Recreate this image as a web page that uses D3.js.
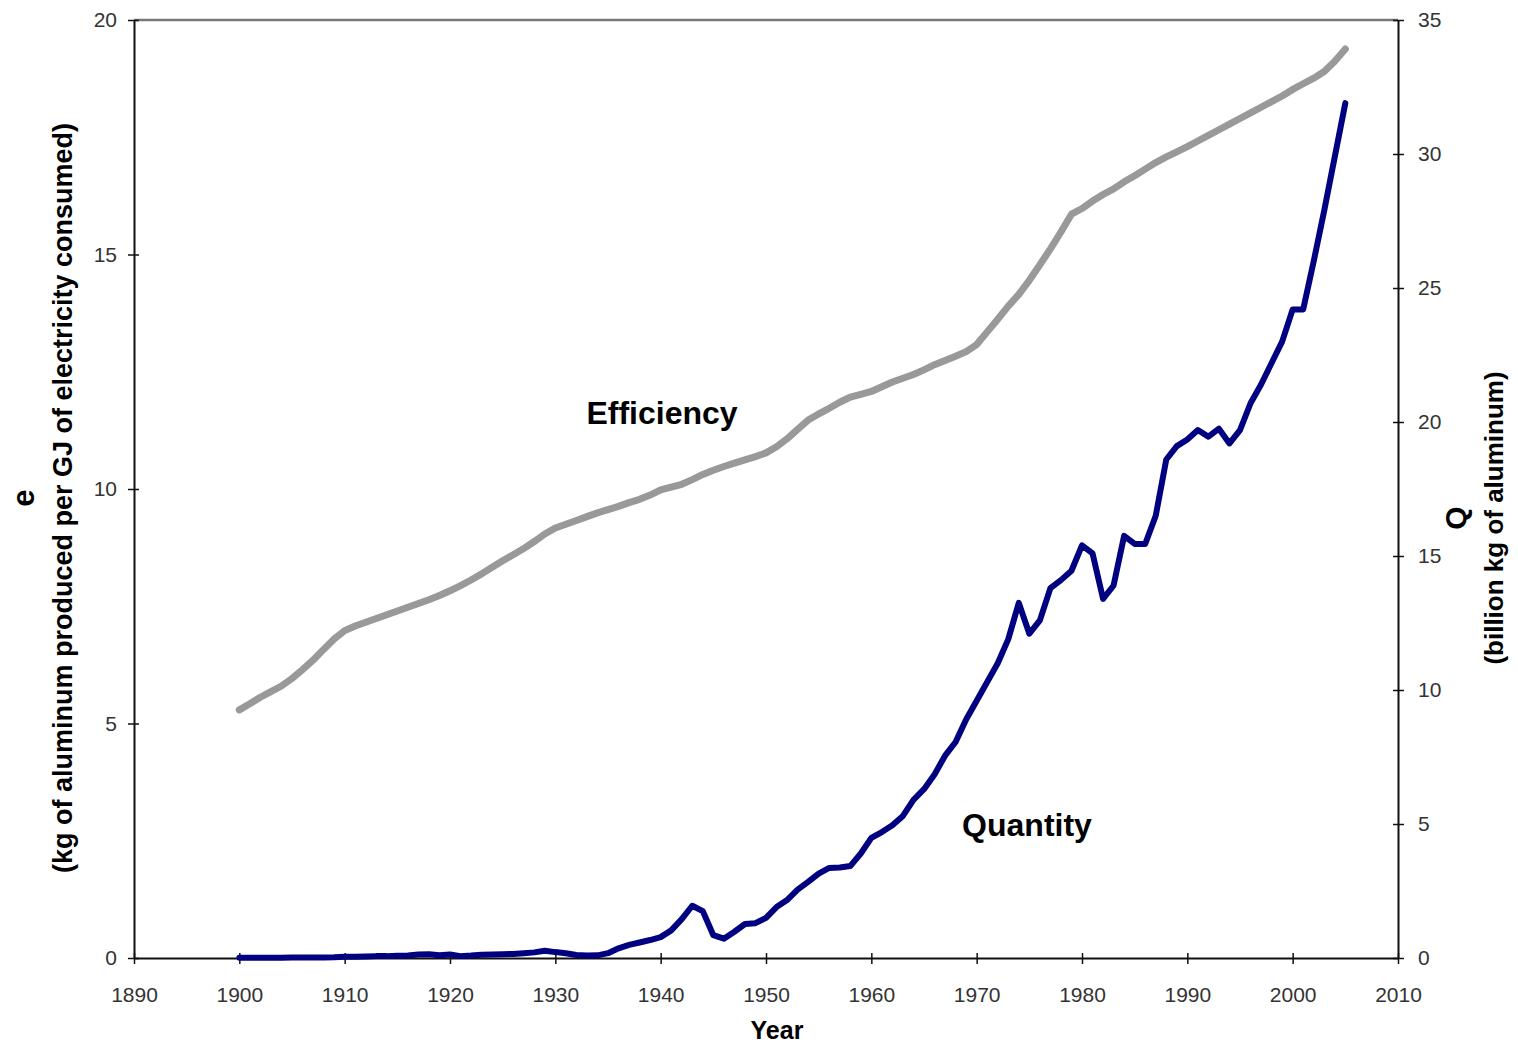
<!DOCTYPE html>
<html>
<head>
<meta charset="utf-8">
<script src="https://cdn.jsdelivr.net/npm/d3@7"></script>
<style>
  body { margin: 0; background: #fff; }
  text { font-family: "Liberation Sans", Arial, sans-serif; }
</style>
</head>
<body>
<svg id="chart" width="1518" height="1047"></svg>
<script>
// years 1900..2005, one value per year
const years = d3.range(1900, 2006);

// e : kg of aluminum per GJ of electricity
const efficiency = [
  5.29, 5.42, 5.56, 5.68, 5.80, 5.96, 6.15, 6.35, 6.58, 6.80,
  6.98, 7.08, 7.16, 7.24, 7.32, 7.40, 7.48, 7.56, 7.64, 7.73,
  7.83, 7.94, 8.06, 8.19, 8.33, 8.47, 8.60, 8.73, 8.88, 9.04,
  9.17, 9.25, 9.33, 9.41, 9.49, 9.56, 9.63, 9.71, 9.78, 9.87,
  9.98, 10.04, 10.10, 10.20, 10.31, 10.40, 10.48, 10.55, 10.62, 10.69,
  10.77, 10.90, 11.07, 11.27, 11.47, 11.60, 11.72, 11.85, 11.96, 12.02,
  12.08, 12.18, 12.28, 12.36, 12.44, 12.54, 12.65, 12.74, 12.83, 12.93,
  13.08, 13.35, 13.62, 13.90, 14.15, 14.45, 14.78, 15.12, 15.48, 15.86,
  15.98, 16.14, 16.28, 16.40, 16.55, 16.68, 16.82, 16.96, 17.08, 17.19,
  17.30, 17.42, 17.54, 17.66, 17.78, 17.90, 18.02, 18.14, 18.26, 18.38,
  18.52, 18.64, 18.76, 18.90, 19.12, 19.38
];

// Q : billion kg of aluminum
const quantity = [
  0.01, 0.01, 0.01, 0.01, 0.01, 0.02, 0.02, 0.02, 0.02, 0.03,
  0.05, 0.05, 0.06, 0.07, 0.07, 0.08, 0.09, 0.13, 0.14, 0.10,
  0.13, 0.07, 0.09, 0.12, 0.13, 0.14, 0.15, 0.18, 0.21, 0.27,
  0.22, 0.18, 0.11, 0.09, 0.10, 0.18, 0.36, 0.49, 0.58, 0.67,
  0.78, 1.03, 1.45, 1.95, 1.75, 0.85, 0.72, 0.98, 1.27, 1.30,
  1.50, 1.90, 2.16, 2.55, 2.84, 3.15, 3.36, 3.38, 3.43, 3.90,
  4.48, 4.70, 4.95, 5.30, 5.90, 6.30, 6.85, 7.55, 8.06, 8.90,
  9.60, 10.30, 11.00, 11.90, 13.25, 12.10, 12.60, 13.80, 14.10, 14.45,
  15.40, 15.10, 13.40, 13.90, 15.75, 15.45, 15.45, 16.50, 18.60, 19.10,
  19.35, 19.70, 19.45, 19.75, 19.20, 19.70, 20.70, 21.40, 22.20, 23.00,
  24.20, 24.20, 26.00, 27.90, 29.90, 31.90
];

const xTicks = d3.range(1890, 2011, 10);
const leftTicks = [0, 5, 10, 15, 20];
const rightTicks = [0, 5, 10, 15, 20, 25, 30, 35];

const plot = { left: 134, right: 1398, top: 20, bottom: 958 };

const svg = d3.select('#chart');

const x = d3.scaleLinear().domain([1890, 2010]).range([plot.left, plot.right]);
const yL = d3.scaleLinear().domain([0, 20]).range([plot.bottom, plot.top]);
const yR = d3.scaleLinear().domain([0, 35]).range([plot.bottom, plot.top]);

// top border
svg.append('line')
  .attr('x1', plot.left).attr('x2', plot.right)
  .attr('y1', plot.top).attr('y2', plot.top)
  .attr('stroke', '#777').attr('stroke-width', 2.5);

function styleAxis(g) {
  g.select('.domain').attr('stroke', '#111').attr('stroke-width', 2);
  g.selectAll('.tick line').attr('stroke', '#111').attr('stroke-width', 1.5);
  g.selectAll('.tick text')
    .attr('fill', '#333')
    .style('font-size', '21px');
}

let gx = svg.append('g')
  .attr('transform', 'translate(0,' + plot.bottom + ')')
  .call(d3.axisBottom(x).tickValues(xTicks).tickFormat(d3.format('d'))
    .tickSizeInner(6).tickSizeOuter(0).tickPadding(23));
styleAxis(gx);
gx.selectAll('.tick line').attr('y1', -5);

let gl = svg.append('g')
  .attr('transform', 'translate(' + plot.left + ',0)')
  .call(d3.axisLeft(yL).tickValues(leftTicks)
    .tickSizeInner(6).tickSizeOuter(0).tickPadding(11));
styleAxis(gl);
gl.selectAll('.tick line').attr('x1', 5);

let gr = svg.append('g')
  .attr('transform', 'translate(' + plot.right + ',0)')
  .call(d3.axisRight(yR).tickValues(rightTicks)
    .tickSizeInner(6).tickSizeOuter(0).tickPadding(14));
styleAxis(gr);
gr.selectAll('.tick line').attr('x1', -5);

// lines
let effLine = d3.line()
  .x(function (d, i) { return x(years[i]); })
  .y(function (d) { return yL(d); });

let qLine = d3.line()
  .x(function (d, i) { return x(years[i]); })
  .y(function (d) { return yR(d); });

svg.append('path')
  .datum(efficiency)
  .attr('d', effLine)
  .attr('fill', 'none')
  .attr('stroke', '#999')
  .attr('stroke-width', 7)
  .attr('stroke-linejoin', 'round')
  .attr('stroke-linecap', 'round');

svg.append('path')
  .datum(quantity)
  .attr('d', qLine)
  .attr('fill', 'none')
  .attr('stroke', '#000080')
  .attr('stroke-width', 6)
  .attr('stroke-linejoin', 'round')
  .attr('stroke-linecap', 'round');

// series labels
svg.append('text')
  .attr('x', 662).attr('y', 424)
  .attr('text-anchor', 'middle')
  .style('font-size', '32px').style('font-weight', 'bold')
  .text('Efficiency');

svg.append('text')
  .attr('x', 1027).attr('y', 836)
  .attr('text-anchor', 'middle')
  .style('font-size', '32px').style('font-weight', 'bold')
  .text('Quantity');

// axis titles
svg.append('text')
  .attr('x', 777).attr('y', 1039)
  .attr('text-anchor', 'middle')
  .style('font-size', '25px').style('font-weight', 'bold')
  .text('Year');

let lt = svg.append('g').attr('transform', 'translate(0,498) rotate(-90)');
lt.append('text')
  .attr('y', 34)
  .attr('text-anchor', 'middle')
  .style('font-size', '31px').style('font-weight', 'bold')
  .text('e');
lt.append('text')
  .attr('y', 72)
  .attr('text-anchor', 'middle')
  .style('font-size', '27px').style('font-weight', 'bold')
  .text('(kg of aluminum produced per GJ of electricity consumed)');

let rt = svg.append('g').attr('transform', 'translate(0,518) rotate(-90)');
rt.append('text')
  .attr('y', 1466)
  .attr('text-anchor', 'middle')
  .style('font-size', '30px').style('font-weight', 'bold')
  .text('Q');
rt.append('text')
  .attr('y', 1503)
  .attr('text-anchor', 'middle')
  .style('font-size', '26px').style('font-weight', 'bold')
  .text('(billion kg of aluminum)');
</script>
</body>
</html>
